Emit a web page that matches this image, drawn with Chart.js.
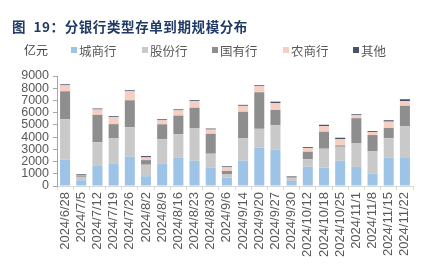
<!DOCTYPE html>
<html>
<head>
<meta charset="utf-8">
<script src="https://cdn.jsdelivr.net/npm/chart.js@4"></script>
<style>
  html, body { margin: 0; padding: 0; background: #fff; }
  #wrap { position: relative; width: 434px; height: 273px; overflow: hidden; }
  #c { position: absolute; left: 0; top: 0; }
  .txt { position: absolute; white-space: nowrap; font-family: "Noto Sans CJK SC", "Liberation Sans", sans-serif; }
  #title { left: 12px; top: 16px; font-size: 13.5px; font-weight: bold; color: #1f3a66; letter-spacing: 0.6px; }
  #unit { left: 24px; top: 41px; font-size: 12px; color: #404040; }
  .lg { top: 41px; font-size: 12.5px; color: #595959; }
  .box { position: absolute; top: 47px; width: 6px; height: 6px; }
</style>
</head>
<body>
<div id="wrap">
  <canvas id="c" width="434" height="273"></canvas>
  <div class="txt" id="title">图&nbsp;&nbsp;19：分银行类型存单到期规模分布</div>
  <div class="txt" id="unit">亿元</div>
  <div id="legend"></div>
</div>
<script>
const dates = ['2024/6/28', '2024/7/5', '2024/7/12', '2024/7/19', '2024/7/26', '2024/8/2', '2024/8/9',
  '2024/8/16', '2024/8/23', '2024/8/30', '2024/9/6', '2024/9/14', '2024/9/20', '2024/9/27', '2024/9/30',
  '2024/10/12', '2024/10/18', '2024/10/25', '2024/11/1', '2024/11/8', '2024/11/15', '2024/11/22'];

// 亿元
const cityBanks  = [2150, 470, 1690, 1850, 2390, 790, 1820, 2310, 2070, 1520, 680, 2070, 3130, 2960, 410, 1580, 1500, 2070, 1550, 1010, 2310, 2290];
const jointStock = [3310, 280, 1900, 2040, 2420, 950, 2010, 1930, 2670, 1120, 300, 1820, 1550, 2010, 220, 600, 1550, 1140, 1930, 1850, 1600, 2610];
const stateOwned = [2290, 120, 2230, 1170, 2200, 380, 1220, 1520, 1660, 1630, 250, 2180, 2990, 1250, 80, 620, 1390, 110, 2070, 1310, 840, 1660];
const ruralBanks = [490, 40, 440, 570, 740, 220, 330, 430, 540, 350, 300, 490, 490, 570, 50, 300, 460, 520, 240, 240, 520, 380];
const others     = [80, 60, 80, 80, 80, 110, 80, 80, 80, 80, 80, 80, 80, 110, 60, 80, 110, 110, 80, 80, 110, 160];

const yTicks = [0, 1000, 2000, 3000, 4000, 5000, 6000, 7000, 8000, 9000];

const seriesNames = ['城商行', '股份行', '国有行', '农商行', '其他'];
const seriesColors = ['#9dc3e6', '#c9c9c9', '#8e8e8e', '#f6cfc2', '#44546a'];
const seriesData = [cityBanks, jointStock, stateOwned, ruralBanks, others];

// html legend, like the source report
const legendX = [71, 142, 212, 283, 353];
const legendEl = document.getElementById('legend');
seriesNames.forEach((name, i) => {
  const b = document.createElement('div');
  b.className = 'box';
  b.style.left = legendX[i] + 'px';
  b.style.background = seriesColors[i];
  legendEl.appendChild(b);
  const t = document.createElement('div');
  t.className = 'txt lg';
  t.style.left = (legendX[i] + 8) + 'px';
  t.textContent = name;
  legendEl.appendChild(t);
});

const tickFont = { family: '"Liberation Sans", Arial, sans-serif', size: 13 };

new Chart(document.getElementById('c'), {
  type: 'bar',
  data: {
    labels: dates,
    datasets: seriesNames.map((name, i) => ({
      label: name,
      data: seriesData[i],
      backgroundColor: seriesColors[i],
      barPercentage: 0.62,
      categoryPercentage: 1
    }))
  },
  options: {
    responsive: false,
    animation: false,
    layout: { padding: { top: 76, right: 21, bottom: 0, left: 0 } },
    plugins: { legend: { display: false }, tooltip: { enabled: false } },
    scales: {
      x: {
        stacked: true,
        afterFit: s => { s.height = 87; },
        grid: { drawOnChartArea: false, tickLength: 4, color: '#d9d9d9' },
        border: { color: '#d9d9d9' },
        ticks: { color: '#595959', font: tickFont, minRotation: 90, maxRotation: 90, padding: 2, autoSkip: false }
      },
      y: {
        stacked: true,
        min: 0,
        max: 9000,
        afterFit: s => { s.width = 57; },
        afterBuildTicks: s => { s.ticks = yTicks.map(v => ({ value: v })); },
        grid: { drawOnChartArea: false, tickLength: 4, color: '#a6a6a6' },
        border: { color: '#a6a6a6' },
        ticks: {
          color: '#595959',
          font: { family: '"Liberation Sans", Arial, sans-serif', size: 12.5 },
          padding: 4,
          autoSkip: false,
          callback: v => String(v)
        }
      }
    }
  }
});
</script>
</body>
</html>
